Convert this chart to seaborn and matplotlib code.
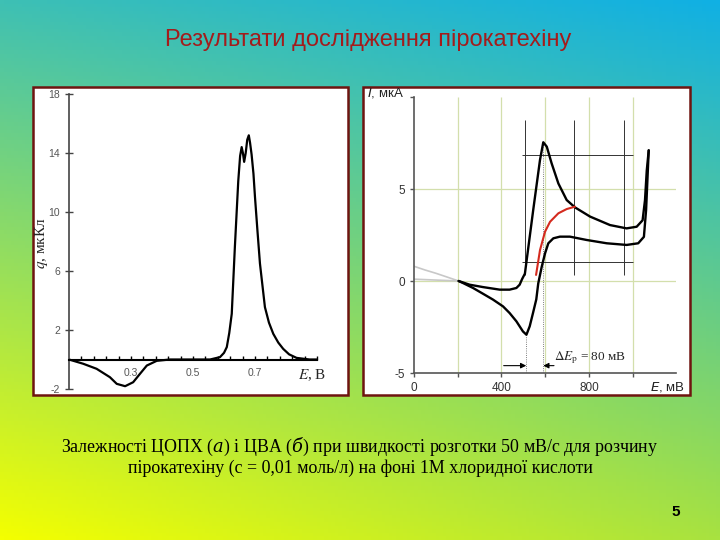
import numpy as np
import pandas as pd
import matplotlib
matplotlib.use("Agg")
import matplotlib.pyplot as plt
import seaborn as sns
from matplotlib.patches import Rectangle

# ---- data ----
# (a) charge curve, q (мкКл) vs E (В)
q_E = [0.10, 0.146, 0.189, 0.232, 0.254, 0.281, 0.307, 0.329, 0.351, 0.383, 0.426,
       0.555, 0.587, 0.600, 0.609, 0.617, 0.625, 0.635, 0.646, 0.652, 0.657, 0.661,
       0.665, 0.670, 0.675, 0.680, 0.684, 0.689, 0.695, 0.700, 0.708, 0.716, 0.732,
       0.745, 0.759, 0.775, 0.791, 0.810, 0.834, 0.876, 0.90]
q_val = [0.0, -0.29, -0.63, -1.20, -1.65, -1.81, -1.54, -0.97, -0.41, -0.09, 0.0,
         0.0, 0.16, 0.45, 0.84, 1.8, 3.1, 7.6, 12.1, 13.8, 14.4, 14.0,
         13.4, 14.0, 14.9, 15.2, 14.7, 13.9, 12.6, 11.0, 8.7, 6.5, 3.55,
         2.5, 1.74, 1.15, 0.72, 0.35, 0.11, 0.0, 0.0]

# (b) CV, I (мкА) vs E (мВ)
fwd_E = [204, 254, 315, 392, 437, 468, 483, 494, 507, 545, 576, 591, 607, 629, 660,
         698, 736, 805, 896, 972, 1018, 1045, 1056, 1064, 1073]
fwd_I = [0.0, -0.20, -0.33, -0.47, -0.47, -0.38, -0.20, 0.10, 0.40, 3.86, 6.58, 7.54,
         7.30, 6.40, 5.30, 4.40, 4.00, 3.50, 3.04, 2.86, 2.95, 3.30, 4.40, 6.00, 7.10]
rev_E = [1073, 1061, 1051, 1025, 972, 881, 789, 713, 667, 637, 614, 599, 584, 568,
         559, 544, 529, 514, 498, 468, 437, 407, 361, 315, 270, 224, 204]
rev_I = [7.10, 3.86, 2.40, 2.05, 1.96, 2.05, 2.23, 2.41, 2.41, 2.32, 2.05, 1.50, 0.78,
         -0.13, -1.00, -1.74, -2.46, -2.92, -2.74, -2.19, -1.74, -1.38, -1.01, -0.69,
         -0.38, -0.11, 0.0]
red_E = [558, 576, 599, 622, 660, 698, 736]
red_I = [0.33, 1.68, 2.68, 3.22, 3.68, 3.91, 4.04]
gray1_E = [0, 50, 100, 150, 204]
gray1_I = [0.80, 0.60, 0.42, 0.22, 0.0]
gray2_E = [0, 204]
gray2_I = [0.10, 0.0]

# construction lines of panel (b)
cons_vx = [507, 731, 960]
cons_vy = [0.33, 8.75]
cons_hy = [6.85, 1.05]
cons_hx = [492, 1003]
peak_E = [513, 591]
peak_I = [-2.92, 7.54]

sns.set_theme(style="white")
plt.rcParams['font.family'] = ['Liberation Sans', 'DejaVu Sans']
plt.rcParams['axes.unicode_minus'] = False

fig = plt.figure(figsize=(7.2, 5.4), dpi=100)

# slide background gradient
bg = fig.add_axes([0, 0, 1, 1], zorder=-2)
tl = np.array([62, 192, 180]) / 255
tr = np.array([16, 176, 228]) / 255
bl = np.array([244, 255, 0]) / 255
br = np.array([168, 226, 64]) / 255
u = np.linspace(0, 1, 200)[None, :, None]
v = np.linspace(0, 1, 150)[:, None, None]
img = (1 - v) * ((1 - u) * tl + u * tr) + v * ((1 - u) * bl + u * br)
bg.imshow(img, aspect='auto', extent=[0, 1, 0, 1])
bg.axis('off')

W, H = 720, 540
for x0, x1 in [(33, 348), (363, 690)]:
    fig.add_artist(Rectangle((x0 / W, 1 - 395 / H), (x1 - x0) / W, (395 - 87) / H,
                             transform=fig.transFigure, facecolor='white',
                             edgecolor='#6e1410', lw=1.8, zorder=-1))

fig.text(368 / W, 1 - 40 / H, "Результати дослідження пірокатехіну",
         ha='center', va='center', fontsize=17, color='#a31c1c')

# ---- panel (a) ----
ax1 = fig.add_axes([69 / W, 1 - 389 / H, 248 / W, 295 / H])
ax1.patch.set_alpha(0)
sns.lineplot(data=pd.DataFrame({'E': q_E, 'q': q_val}), x='E', y='q', sort=False,
             estimator=None, color='black', lw=1.6, ax=ax1)
ax1.set_xlim(0.1, 0.9)
ax1.set_ylim(-2, 18)
for s in ['top', 'right']:
    ax1.spines[s].set_visible(False)
ax1.spines['bottom'].set_position(('data', 0))
ax1.spines['bottom'].set_color('black')
ax1.spines['bottom'].set_linewidth(1.5)
ax1.spines['left'].set_color('#444444')
ax1.spines['left'].set_linewidth(1.2)
xt = np.round(np.arange(0.14, 0.91, 0.04), 2)
ax1.set_xticks(xt)
ax1.set_xticklabels(['0.3' if abs(t - 0.3) < 1e-6 else '0.5' if abs(t - 0.5) < 1e-6
                     else '0.7' if abs(t - 0.7) < 1e-6 else '' for t in xt])
ax1.set_yticks([-2, 2, 6, 10, 14, 18])
ax1.tick_params(axis='x', direction='in', length=3, width=1, color='black',
                labelsize=7.5, labelcolor='#555555', pad=6, bottom=True)
ax1.tick_params(axis='y', direction='inout', length=6, width=1, color='#444444',
                labelsize=7.5, labelcolor='#555555', pad=3.5, left=True)
ax1.set_xlabel('')
ax1.set_ylabel('$q$, мкКл', fontsize=11, family=['Liberation Serif'],
               math_fontfamily='stix')
ax1.yaxis.set_label_coords(-0.075, 0.495)
ax1.text(0.839, -1.08, '$E$, В', fontsize=11, family=['Liberation Serif'],
         math_fontfamily='stix', ha='left', va='center')

# ---- panel (b) ----
ax2 = fig.add_axes([414 / W, 1 - 373 / H, 262.5 / W, 276 / H])
ax2.patch.set_alpha(0)
ax2.set_xlim(0, 1200)
ax2.set_ylim(-5, 10)
grid_c = '#d3dfac'
ax2.vlines([200, 400, 600, 800, 1000], -5, 10, color=grid_c, lw=0.9, zorder=0)
ax2.hlines([0, 5], 0, 1200, color=grid_c, lw=0.9, zorder=0)
ax2.vlines(cons_vx, cons_vy[0], cons_vy[1], color='#333333', lw=0.7, zorder=1)
ax2.hlines(cons_hy, cons_hx[0], cons_hx[1], color='#333333', lw=0.7, zorder=1)
ax2.vlines(peak_E, -5, peak_I, color='#555555', lw=0.6, linestyles=':', zorder=1)

sns.lineplot(x=gray1_E, y=gray1_I, sort=False, estimator=None, color='#c8c8c8', lw=1.2, ax=ax2)
sns.lineplot(x=gray2_E, y=gray2_I, sort=False, estimator=None, color='#c8c8c8', lw=1.2, ax=ax2)
sns.lineplot(x=fwd_E, y=fwd_I, sort=False, estimator=None, color='black', lw=1.7, ax=ax2)
sns.lineplot(x=rev_E, y=rev_I, sort=False, estimator=None, color='black', lw=1.7, ax=ax2)
sns.lineplot(x=red_E, y=red_I, sort=False, estimator=None, color='#d42a1e', lw=1.5, ax=ax2)

for s in ['top', 'right']:
    ax2.spines[s].set_visible(False)
for s in ['left', 'bottom']:
    ax2.spines[s].set_color('#555555')
    ax2.spines[s].set_linewidth(1.2)
ax2.set_xticks([0, 200, 400, 600, 800, 1000])
ax2.set_xticklabels(['0', '', '400', '', '800', ''])
ax2.set_yticks([-5, 0, 5, 10])
ax2.set_yticklabels(['-5', '0', '5', ''])
ax2.tick_params(direction='out', length=3, width=1, color='#555555', labelsize=8.5,
                labelcolor='#333333', pad=3.5, bottom=True, left=True)
ax2.text(-0.18, 1.013, '$I$, мкА', transform=ax2.transAxes, fontsize=9.5,
         math_fontfamily='dejavusans', ha='left', va='center', color='#222222')
ax2.text(0.9, -0.05, '$E$, мВ', transform=ax2.transAxes, fontsize=9.5,
         math_fontfamily='dejavusans', ha='left', va='center', color='#222222')

arrow = dict(arrowstyle='-|>', color='black', lw=0.8, mutation_scale=8,
             shrinkA=0, shrinkB=0)
ax2.annotate('', xy=(peak_E[0], -4.6), xytext=(410, -4.6), arrowprops=arrow)
ax2.annotate('', xy=(peak_E[1], -4.6), xytext=(640, -4.6), arrowprops=arrow)
ax2.text(640, -4.15, r'$\Delta E_\mathrm{p}$ = 80 мВ', fontsize=9.5,
         family=['Liberation Serif'], math_fontfamily='stix', ha='left', va='center')

# caption
cap1 = 'Залежності ЦОПХ ($\\mathit{a}$) і ЦВА ($\\mathit{б}$) при швидкості розготки 50 мВ/с для розчину'
cap2 = 'пірокатехіну (c = 0,01 моль/л) на фоні 1М хлоридної кислоти'
fig.text(360 / W, 1 - 447 / H, cap1, ha='center', va='center', fontsize=12.9,
         family=['Liberation Serif'], math_fontfamily='dejavuserif', color='black')
fig.text(360 / W, 1 - 468 / H, cap2, ha='center', va='center', fontsize=12.9,
         family=['Liberation Serif'], color='black')
fig.text(676 / W, 1 - 512 / H, '5', ha='center', va='center', fontsize=11,
         fontweight='bold', color='black')

fig.savefig('out.png', dpi=100)
